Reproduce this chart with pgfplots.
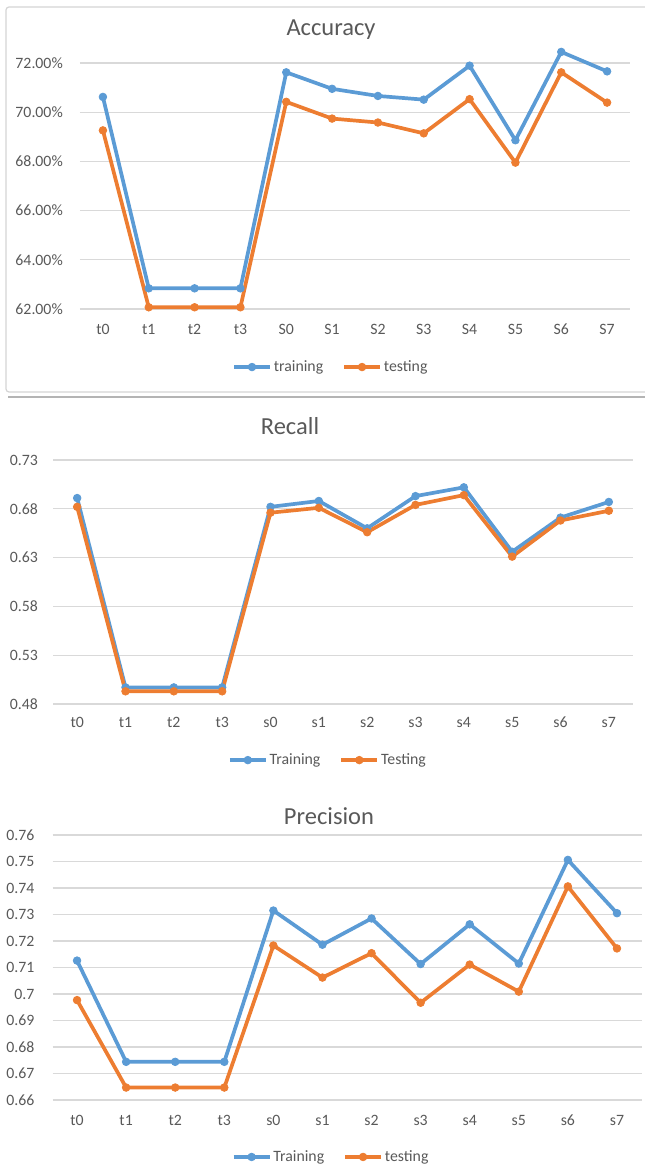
\documentclass[border=0pt]{standalone}
\usepackage{pgfplots}
\pgfplotsset{compat=1.18}
\usepackage{pgfplotstable}
\usepackage{fontspec}
\setmainfont{Carlito}

\definecolor{trainblue}{HTML}{5B9BD5}
\definecolor{testorange}{HTML}{ED7D31}
\definecolor{gridgray}{HTML}{D9D9D9}
\definecolor{txtgray}{HTML}{595959}
\definecolor{framegray}{HTML}{D4D4D4}

% columns: category index, training, testing
\pgfplotstableread{
x  train  test
0  70.62  69.26
1  62.84  62.07
2  62.84  62.07
3  62.84  62.07
4  71.62  70.42
5  70.95  69.74
6  70.66  69.58
7  70.51  69.14
8  71.89  70.53
9  68.86  67.95
10 72.45  71.62
11 71.66  70.39
}\accuracy

\pgfplotstableread{
x  train  test
0  0.691  0.682
1  0.497  0.493
2  0.497  0.493
3  0.497  0.493
4  0.682  0.676
5  0.688  0.681
6  0.660  0.656
7  0.693  0.684
8  0.702  0.694
9  0.636  0.631
10 0.671  0.668
11 0.687  0.678
}\recall

\pgfplotstableread{
x  train   test
0  0.7126  0.6977
1  0.6744  0.6647
2  0.6744  0.6647
3  0.6744  0.6647
4  0.7315  0.7183
5  0.7186  0.7062
6  0.7285  0.7154
7  0.7113  0.6967
8  0.7263  0.7111
9  0.7115  0.7009
10 0.7506  0.7406
11 0.7305  0.7172
}\precision

\newcommand{\ticksize}{\fontsize{15.8}{18}\selectfont}
\newcommand{\titlesize}{\fontsize{24.5}{28}\selectfont}

\pgfplotsset{
  excelline/.style={
    scale only axis, clip=false,
    axis line style={draw=none},
    major tick length=0pt,
    ymajorgrids, grid style={gridgray, line width=1.3pt},
    xmin=-0.5, xmax=11.5, xtick={0,...,11},
    tick label style={font=\ticksize, text=txtgray},
    yticklabel style={inner sep=0pt},
    xticklabel style={inner sep=0pt},
    legend columns=2,
    legend cell align=left,
    legend style={draw=none, fill=none, font=\ticksize, text=txtgray,
      inner sep=0pt,
      /tikz/every even column/.append style={column sep=17pt}},
    legend image code/.code={%
      \draw[mark repeat=2, mark phase=2, #1]
        plot coordinates {(0pt,0pt) (18pt,0pt) (36pt,0pt)};},
  },
  trainline/.style={color=trainblue, line width=3.7pt, mark=*,
    mark size=3.8pt, mark options={solid, line width=0.8pt}},
  testline/.style={color=testorange, line width=3.7pt, mark=*,
    mark size=3.8pt, mark options={solid, line width=0.8pt}},
}

\begin{document}
\begin{tikzpicture}
\path[use as bounding box] (0pt,0pt) rectangle (645pt,1167pt);

% frame of the top chart and the edge beneath it
\draw[framegray, line width=1.2pt, rounded corners=3pt]
  (660pt,1160pt) -- (6pt,1160pt) -- (6pt,775pt) -- (660pt,775pt);
\draw[framegray!85!black, line width=1.6pt] (8pt,770pt) -- (660pt,770pt);

% ---------------- Accuracy ----------------
\begin{axis}[excelline,
  at={(80pt,858pt)}, anchor=south west,
  width=550pt, height=246pt,
  ymin=62, ymax=72, ytick={62,64,...,72},
  yticklabel={\pgfmathprintnumber[fixed, fixed zerofill, precision=2,
    assume math mode=true]{\tick}\%},
  yticklabel style={xshift=-17pt},
  xticklabel style={yshift=-15pt},
  xticklabels={t0,t1,t2,t3,S0,S1,S2,S3,S4,S5,S6,S7},
  legend style={at={(0.456,-0.236)}, anchor=center},
]
\addplot[trainline] table[x=x, y=train] {\accuracy};
\addlegendentry{training}
\addplot[testline] table[x=x, y=test] {\accuracy};
\addlegendentry{testing}
\end{axis}
\node[font=\titlesize, text=txtgray] at (331pt,1137pt) {Accuracy};

% ---------------- Recall ----------------
\begin{axis}[excelline,
  at={(53pt,463pt)}, anchor=south west,
  width=580pt, height=244pt,
  ymin=0.48, ymax=0.73, ytick={0.48,0.53,0.58,0.63,0.68,0.73},
  yticklabel={\pgfmathprintnumber[fixed, fixed zerofill, precision=2,
    assume math mode=true]{\tick}},
  yticklabel style={xshift=-15pt},
  xticklabel style={yshift=-13pt},
  xticklabels={t0,t1,t2,t3,s0,s1,s2,s3,s4,s5,s6,s7},
  legend style={at={(0.474,-0.23)}, anchor=center},
]
\addplot[trainline] table[x=x, y=train] {\recall};
\addlegendentry{Training}
\addplot[testline] table[x=x, y=test] {\recall};
\addlegendentry{Testing}
\end{axis}
\node[font=\titlesize, text=txtgray] at (290pt,741pt) {Recall};

% ---------------- Precision ----------------
\begin{axis}[excelline,
  at={(52.5pt,67pt)}, anchor=south west,
  width=589pt, height=265pt,
  ymin=0.66, ymax=0.76,
  ytick={0.66,0.67,0.68,0.69,0.70,0.71,0.72,0.73,0.74,0.75,0.76},
  yticklabel={\pgfmathprintnumber[fixed, precision=2,
    assume math mode=true]{\tick}},
  yticklabel style={xshift=-18pt},
  xticklabel style={yshift=-15pt},
  xticklabels={t0,t1,t2,t3,s0,s1,s2,s3,s4,s5,s6,s7},
  legend style={at={(0.473,-0.215)}, anchor=center},
]
\addplot[trainline] table[x=x, y=train] {\precision};
\addlegendentry{Training}
\addplot[testline] table[x=x, y=test] {\precision};
\addlegendentry{testing}
\end{axis}
\node[font=\titlesize, text=txtgray] at (329pt,351pt) {Precision};
\end{tikzpicture}
\end{document}
